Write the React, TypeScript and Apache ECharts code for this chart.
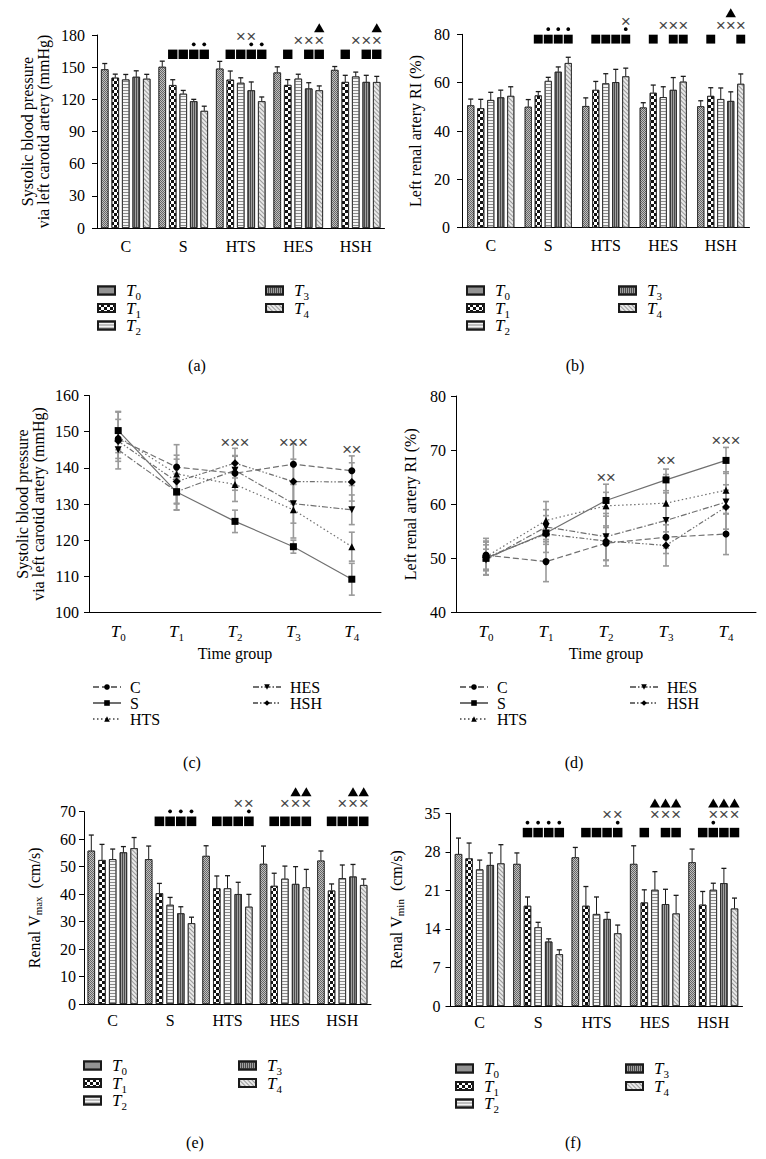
import React, { useEffect, useRef } from 'react';
import * as echarts from 'echarts';

const SERIF = '"Liberation Serif", "Times New Roman", serif';
const FS = 16;

const groups = ['C', 'S', 'HTS', 'HES', 'HSH'];
const times = ['T0', 'T1', 'T2', 'T3', 'T4'];

// Systolic blood pressure (mmHg), each array: T0..T4
const sbpC = [148, 140.2, 138.5, 141, 139.2];
const sbpS = [150.3, 133.3, 125.2, 118.2, 109.2];
const sbpHTS = [148.6, 138.3, 135.4, 128.4, 118.2];
const sbpHES = [145, 133.4, 139.3, 130.1, 128.4];
const sbpHSH = [147.4, 136.2, 141.3, 136.2, 136.1];
const sbpErrC = [5.4, 3.3, 4.7, 5.6, 4.1];
const sbpErrS = [5.3, 5.0, 3.1, 1.8, 4.4];
const sbpErrHTS = [6.8, 8.1, 4.7, 7.8, 4.0];
const sbpErrHES = [5.3, 5.0, 4.1, 5.4, 4.1];
const sbpErrHSH = [3.2, 6.2, 4.1, 6.2, 5.3];

// Left renal artery RI (%)
const riC = [50.6, 49.4, 52.8, 53.9, 54.5];
const riS = [50.0, 54.7, 60.7, 64.5, 68.1];
const riHTS = [50.3, 57.0, 59.7, 60.2, 62.6];
const riHES = [49.7, 55.8, 54.0, 57.0, 60.4];
const riHSH = [50.2, 54.5, 53.2, 52.4, 59.5];
const riErrC = [2.6, 3.7, 3.2, 3.0, 3.8];
const riErrS = [3.0, 1.6, 1.5, 2.0, 2.4];
const riErrHTS = [3.4, 3.5, 4.0, 5.3, 3.4];
const riErrHES = [2.0, 3.2, 4.3, 5.1, 2.2];
const riErrHSH = [2.3, 3.4, 4.6, 3.8, 4.1];

// Renal Vmax (cm/s)
const vmaxC = [55.8, 52.4, 52.7, 55.2, 56.7];
const vmaxS = [52.7, 40.3, 36.1, 33.0, 29.4];
const vmaxHTS = [53.9, 42.1, 42.1, 40.0, 35.4];
const vmaxHES = [51.0, 43.0, 45.6, 43.7, 42.5];
const vmaxHSH = [52.2, 41.3, 45.8, 46.4, 43.3];
const vmaxErrC = [5.7, 5.7, 3.7, 2.1, 3.9];
const vmaxErrS = [4.8, 3.6, 2.7, 2.4, 2.2];
const vmaxErrHTS = [3.7, 4.5, 4.6, 4.3, 4.5];
const vmaxErrHES = [6.5, 4.6, 4.6, 6.3, 6.5];
const vmaxErrHSH = [3.5, 2.4, 4.8, 4.4, 2.2];

// Renal Vmin (cm/s)
const vminC = [27.6, 26.8, 24.8, 25.6, 25.9];
const vminS = [25.8, 18.2, 14.3, 11.7, 9.4];
const vminHTS = [27.0, 18.2, 16.7, 15.8, 13.2];
const vminHES = [25.8, 18.8, 21.1, 18.5, 16.8];
const vminHSH = [26.1, 18.4, 21.1, 22.3, 17.7];
const vminErrC = [2.9, 2.8, 1.7, 2.2, 3.4];
const vminErrS = [2.0, 1.6, 0.9, 0.5, 0.8];
const vminErrHTS = [1.8, 3.5, 3.1, 1.2, 1.5];
const vminErrHES = [3.3, 2.3, 3.3, 2.7, 3.3];
const vminErrHSH = [2.4, 2.4, 1.2, 2.7, 1.9];

// Significance marks: per group, the time indices (bars) carrying each mark
const sqA = [[], [1, 2, 3, 4], [1, 2, 3, 4], [1, 3, 4], [1, 3, 4]];
const dotA = [[], [3, 4], [3, 4], [], []];
const crossA = [[], [], [2, 3], [2, 3, 4], [2, 3, 4]];
const triA = [[], [], [], [4], [4]];

const sqB = [[], [1, 2, 3, 4], [1, 2, 3, 4], [1, 3, 4], [1, 4]];
const dotB = [[], [2, 3, 4], [4], [], []];
const crossB = [[], [], [4], [2, 3, 4], [2, 3, 4]];
const triB = [[], [], [], [], [3]];

const sqE = [[], [1, 2, 3, 4], [1, 2, 3, 4], [1, 2, 3, 4], [1, 2, 3, 4]];
const dotE = [[], [2, 3, 4], [4], [], []];
const crossE = [[], [], [3, 4], [2, 3, 4], [2, 3, 4]];
const triE = [[], [], [], [3, 4], [3, 4]];

const sqF = [[], [1, 2, 3, 4], [1, 2, 3, 4], [1, 3, 4], [1, 2, 3, 4]];
const dotF = [[], [1, 2, 3, 4], [4], [], [2]];
const crossF = [[], [], [3, 4], [2, 3, 4], [2, 3, 4]];
const triF = [[], [], [], [2, 3, 4], [2, 3, 4]];

// Mark rows sit at these values
const markBaseA = 162;
const markBaseB = 78;
const markBaseE = 66.5;
const markBaseF = 31.5;

// Line-chart significance labels per time point
const sbpLineCross = ['', '', '×××', '×××', '××'];
const sbpLineCrossAt = [0, 0, 147, 147, 145];
const riLineCross = ['', '', '××', '××', '×××'];
const riLineCrossAt = [0, 0, 65, 68, 71.7];

const patterns = [
  { color: '#666666', decal: { symbol: 'rect', symbolSize: 1, color: '#c0c0c0', dashArrayX: [[1, 1], [0, 1, 1, 0]], dashArrayY: [1, 0] } },
  { color: '#ffffff', decal: { symbol: 'rect', symbolSize: 1, color: '#111111', dashArrayX: [[3, 3], [0, 3, 3, 0]], dashArrayY: [3, 0] } },
  { color: '#f4f4f4', decal: { symbol: 'rect', symbolSize: 1, color: '#8a8a8a', dashArrayX: [1, 0], dashArrayY: [1, 2] } },
  { color: '#a0a0a0', decal: { symbol: 'rect', symbolSize: 1, color: '#4a4a4a', dashArrayX: [1, 1], dashArrayY: [1, 0] } },
  { color: '#e8e8e8', decal: { symbol: 'rect', symbolSize: 1, color: '#9a9a9a', dashArrayX: [1, 0], dashArrayY: [1, 2], rotation: Math.PI / 4 } },
];

const lineDefs = [
  { symbol: 'circle', rotate: 0, size: 7, type: [6, 3] as any },
  { symbol: 'rect', rotate: 0, size: 7, type: 'solid' as any },
  { symbol: 'triangle', rotate: 0, size: 7, type: [1.5, 2.5] as any },
  { symbol: 'triangle', rotate: 180, size: 7, type: [6, 2, 1.5, 2] as any },
  { symbol: 'diamond', rotate: 0, size: 8, type: [5, 2, 1.5, 2, 1.5, 2] as any },
];

const txt = (extra: any = {}) => ({ color: '#000', fontFamily: SERIF, fontSize: FS, ...extra });

function textStyle(text: string, x: number, y: number, size = FS) {
  return {
    text, x, y, fill: '#000', fontFamily: SERIF, fontSize: size,
    align: 'center', verticalAlign: 'middle',
  };
}

function crossStyle(text: string, x: number, y: number) {
  return { ...textStyle(text, x, y, 17), fill: '#333', stroke: '#333', lineWidth: 0.35 };
}

function barSeries(idx: number, means: number[][], errs: number[][], bw: number, spacing: number,
  marks: number[][][], markBase: number, fixedRows: boolean) {
  const out: any[] = times.map((t, k) => ({
    type: 'bar', name: t, xAxisIndex: idx, yAxisIndex: idx,
    data: means.map((row) => row[k]),
    barWidth: bw, barGap: (((spacing - bw) / bw) * 100).toFixed(1) + '%',
    itemStyle: { color: patterns[k].color, decal: patterns[k].decal, borderColor: '#1a1a1a', borderWidth: 0.7 },
    emphasis: { disabled: true }, silent: true, z: 2,
  }));
  const errData: number[][] = [];
  means.forEach((row, i) => row.forEach((m, k) => errData.push([i, m, k, errs[i][k]])));
  out.push({
    type: 'custom', xAxisIndex: idx, yAxisIndex: idx, silent: true, z: 3,
    encode: { x: 0, y: 1 }, data: errData,
    renderItem: (p: any, api: any) => {
      const i = api.value(0), m = api.value(1), k = api.value(2), e = api.value(3);
      const b = api.coord([i, m]);
      const t = api.coord([i, m + e]);
      const x = b[0] + (k - 2) * spacing;
      return {
        type: 'group', children: [
          { type: 'line', shape: { x1: x, y1: b[1], x2: x, y2: t[1] }, style: { stroke: '#1a1a1a', lineWidth: 1 } },
          { type: 'line', shape: { x1: x - 2.5, y1: t[1], x2: x + 2.5, y2: t[1] }, style: { stroke: '#1a1a1a', lineWidth: 1.3 } },
        ],
      };
    },
  });
  const [sq, dot, cross, tri] = marks;
  out.push({
    type: 'custom', xAxisIndex: idx, yAxisIndex: idx, silent: true, z: 5,
    encode: { x: 0, y: 1 }, data: groups.map((g, i) => [i, markBase]),
    renderItem: (p: any, api: any) => {
      const i = api.value(0);
      const c = api.coord([i, api.value(1)]);
      const cx = c[0], y0 = c[1];
      const hasDot = dot[i].length > 0, hasCross = cross[i].length > 0;
      const yDot = y0 - 10;
      const yCross = fixedRows ? y0 - 18 : y0 - (hasDot ? 18 : 14);
      const yTri = fixedRows ? y0 - 29 : (hasCross ? yCross - 12 : y0 - 14);
      const bx = (j: number) => cx + (j - 2) * spacing;
      const sw = spacing - 1.1;
      const children: any[] = [];
      sq[i].forEach((j) => children.push({ type: 'rect', shape: { x: bx(j) - sw / 2, y: y0 - sw / 2, width: sw, height: sw }, style: { fill: '#000' } }));
      dot[i].forEach((j) => children.push({ type: 'circle', shape: { cx: bx(j), cy: yDot, r: 1.9 }, style: { fill: '#000' } }));
      cross[i].forEach((j) => children.push({ type: 'text', style: crossStyle('×', bx(j), yCross) }));
      tri[i].forEach((j) => children.push({ type: 'polygon', shape: { points: [[bx(j), yTri - 5], [bx(j) + 5.2, yTri + 4], [bx(j) - 5.2, yTri + 4]] }, style: { fill: '#000' } }));
      return { type: 'group', children };
    },
  });
  return out;
}

function lineSeries(idx: number, means: number[][], errs: number[][], cross: string[], crossAt: number[]) {
  const out: any[] = groups.map((g, gi) => ({
    type: 'line', name: g, xAxisIndex: idx, yAxisIndex: idx,
    data: means[gi],
    symbol: lineDefs[gi].symbol, symbolSize: lineDefs[gi].size, symbolRotate: lineDefs[gi].rotate,
    lineStyle: { color: '#707070', width: 1.2, type: lineDefs[gi].type },
    itemStyle: { color: '#000' },
    emphasis: { disabled: true }, silent: true, z: 4,
  }));
  const errData: number[][] = [];
  means.forEach((row, gi) => row.forEach((m, k) => errData.push([k, m, errs[gi][k]])));
  out.push({
    type: 'custom', xAxisIndex: idx, yAxisIndex: idx, silent: true, z: 2,
    encode: { x: 0, y: 1 }, data: errData,
    renderItem: (p: any, api: any) => {
      const k = api.value(0), m = api.value(1), e = api.value(2);
      const lo = api.coord([k, m - e]);
      const hi = api.coord([k, m + e]);
      const x = lo[0];
      const st = { stroke: '#9a9a9a', lineWidth: 1.6 };
      return {
        type: 'group', children: [
          { type: 'line', shape: { x1: x, y1: lo[1], x2: x, y2: hi[1] }, style: st },
          { type: 'line', shape: { x1: x - 3, y1: lo[1], x2: x + 3, y2: lo[1] }, style: st },
          { type: 'line', shape: { x1: x - 3, y1: hi[1], x2: x + 3, y2: hi[1] }, style: st },
        ],
      };
    },
  });
  out.push({
    type: 'custom', xAxisIndex: idx, yAxisIndex: idx, silent: true, z: 6,
    encode: { x: 0, y: 1 }, data: crossAt.map((v, k) => [k, v]),
    renderItem: (p: any, api: any) => {
      const k = api.value(0);
      const c = api.coord([k, api.value(1)]);
      return { type: 'text', style: crossStyle(cross[k], c[0], c[1]) };
    },
  });
  return out;
}

const tRich = {
  t: { fontFamily: SERIF, fontStyle: 'italic', fontSize: 17, lineHeight: 22, color: '#000' },
  s: { fontFamily: SERIF, fontSize: 11, color: '#000', verticalAlign: 'bottom' },
};

function tLegend(left: number, top: number, names: string[]) {
  return {
    left, top, orient: 'vertical', padding: 0, itemGap: -2, itemWidth: 17, itemHeight: 8,
    icon: 'rect', data: names, selectedMode: false,
    formatter: (n: string) => `{p|}{t|T}{s|${n.slice(1)}}`,
    textStyle: { rich: { ...tRich, p: { width: 6 } } },
  };
}

function gLegend(left: number, top: number, names: string[]) {
  return {
    left, top, orient: 'vertical', padding: 0, itemGap: 0, itemWidth: 28, itemHeight: 7,
    data: names, selectedMode: false,
    formatter: (n: string) => `{n|${n}}`,
    textStyle: { rich: { n: { fontFamily: SERIF, fontSize: FS, lineHeight: 20, color: '#000', padding: [0, 0, 0, 4] } } },
  };
}

function catAxis(idx: number, data: string[], margin: number, extra: any = {}) {
  return {
    type: 'category', gridIndex: idx, data,
    axisLine: { lineStyle: { color: '#000', width: 1 } },
    axisTick: { alignWithLabel: true, length: 5, lineStyle: { color: '#000' } },
    axisLabel: txt({ margin, interval: 0 }),
    splitLine: { show: false },
    ...extra,
  };
}

function valAxis(idx: number, min: number, max: number, interval: number, name: string, nameGap: number, margin: number, nameStyle: any = {}) {
  return {
    type: 'value', gridIndex: idx, min, max, interval,
    axisLine: { show: true, lineStyle: { color: '#000', width: 1 } },
    axisTick: { show: true, length: 5, lineStyle: { color: '#000' } },
    axisLabel: txt({ margin }),
    splitLine: { show: false },
    name, nameLocation: 'middle', nameGap, nameRotate: 90, nameMoveOverlap: false,
    nameTextStyle: txt({ lineHeight: 16, ...nameStyle }),
  };
}

function buildOption() {
  const sbpM = [sbpC, sbpS, sbpHTS, sbpHES, sbpHSH];
  const sbpE = [sbpErrC, sbpErrS, sbpErrHTS, sbpErrHES, sbpErrHSH];
  const riM = [riC, riS, riHTS, riHES, riHSH];
  const riE = [riErrC, riErrS, riErrHTS, riErrHES, riErrHSH];
  const vmaxM = [vmaxC, vmaxS, vmaxHTS, vmaxHES, vmaxHSH];
  const vmaxE = [vmaxErrC, vmaxErrS, vmaxErrHTS, vmaxErrHES, vmaxErrHSH];
  const vminM = [vminC, vminS, vminHTS, vminHES, vminHSH];
  const vminE = [vminErrC, vminErrS, vminErrHTS, vminErrHES, vminErrHSH];

  const tAxisLabel = {
    formatter: (v: string) => `{t|T}{s|${v.slice(1)}}`,
    rich: tRich,
  };
  const vRich = (sub: string) => ({
    name: `{a|Renal }{a|V}{s|${sub}}{a|  (cm/s)}`,
    style: {
      rich: {
        a: { fontFamily: SERIF, fontSize: FS, color: '#000', lineHeight: 18 },
        s: { fontFamily: SERIF, fontSize: 11, color: '#000', verticalAlign: 'bottom' },
      },
    },
  });
  const vmaxName = vRich('max');
  const vminName = vRich('min');

  return {
    animation: false,
    backgroundColor: '#fff',
    textStyle: { fontFamily: SERIF },
    grid: [
      { left: 97, top: 35, width: 287.5, height: 193, outerBoundsMode: 'none' },
      { left: 462, top: 34.3, width: 287.5, height: 193.4, outerBoundsMode: 'none' },
      { left: 89, top: 395.5, width: 292, height: 217, outerBoundsMode: 'none' },
      { left: 456, top: 396, width: 300, height: 216.5, outerBoundsMode: 'none' },
      { left: 84, top: 811.7, width: 287, height: 192.3, outerBoundsMode: 'none' },
      { left: 450.5, top: 813.3, width: 292, height: 192.7, outerBoundsMode: 'none' },
    ],
    xAxis: [
      catAxis(0, groups, 10),
      catAxis(1, groups, 10),
      { ...catAxis(2, times, 8), axisLabel: { ...txt({ margin: 8, interval: 0 }), ...tAxisLabel }, name: 'Time group', nameLocation: 'middle', nameGap: 33, nameTextStyle: txt() },
      { ...catAxis(3, times, 8), axisLabel: { ...txt({ margin: 8, interval: 0 }), ...tAxisLabel }, name: 'Time group', nameLocation: 'middle', nameGap: 33, nameTextStyle: txt() },
      catAxis(4, groups, 8),
      catAxis(5, groups, 8),
    ],
    yAxis: [
      valAxis(0, 0, 180, 30, 'Systolic blood pressure\nvia left carotid artery (mmHg)', 46, 12),
      valAxis(1, 0, 80, 20, 'Left renal artery RI (%)', 39, 12),
      valAxis(2, 100, 160, 10, 'Systolic blood pressure\nvia left carotid artery (mmHg)', 43, 10),
      valAxis(3, 40, 80, 10, 'Left renal artery RI (%)', 38, 10),
      valAxis(4, 0, 70, 10, vmaxName.name, 41, 8, vmaxName.style),
      valAxis(5, 0, 35, 7, vminName.name, 45, 10, vminName.style),
    ],
    legend: [
      tLegend(97, 282, ['T0', 'T1', 'T2']),
      tLegend(265, 282, ['T3', 'T4']),
      tLegend(466, 282, ['T0', 'T1', 'T2']),
      tLegend(618, 282, ['T3', 'T4']),
      gLegend(92, 679, ['C', 'S', 'HTS']),
      gLegend(252, 679, ['HES', 'HSH']),
      gLegend(459, 679, ['C', 'S', 'HTS']),
      gLegend(629, 679, ['HES', 'HSH']),
      tLegend(83, 1057, ['T0', 'T1', 'T2']),
      tLegend(238, 1057, ['T3', 'T4']),
      tLegend(455, 1060, ['T0', 'T1', 'T2']),
      tLegend(625, 1060, ['T3', 'T4']),
    ],
    graphic: [
      { type: 'text', style: textStyle('(a)', 197, 365) },
      { type: 'text', style: textStyle('(b)', 575, 365) },
      { type: 'text', style: textStyle('(c)', 192, 762) },
      { type: 'text', style: textStyle('(d)', 574, 762) },
      { type: 'text', style: textStyle('(e)', 195, 1142) },
      { type: 'text', style: textStyle('(f)', 573, 1142) },
    ],
    series: [
      ...barSeries(0, sbpM, sbpE, 7.4, 10.5, [sqA, dotA, crossA, triA], markBaseA, false),
      ...barSeries(1, riM, riE, 7, 10, [sqB, dotB, crossB, triB], markBaseB, false),
      ...lineSeries(2, sbpM, sbpE, sbpLineCross, sbpLineCrossAt),
      ...lineSeries(3, riM, riE, riLineCross, riLineCrossAt),
      ...barSeries(4, vmaxM, vmaxE, 7.3, 10.7, [sqE, dotE, crossE, triE], markBaseE, true),
      ...barSeries(5, vminM, vminE, 7.3, 10.6, [sqF, dotF, crossF, triF], markBaseF, true),
    ],
  };
}

export default function App() {
  const ref = useRef<HTMLDivElement>(null);
  useEffect(() => {
    const chart = echarts.init(ref.current as HTMLDivElement, null, { renderer: 'svg', width: 766, height: 1159 });
    chart.setOption(buildOption() as any);
    return () => chart.dispose();
  }, []);
  return (
    <div
      ref={ref}
      style={{ position: 'absolute', left: 0, top: 0, width: 766, height: 1159, background: '#fff' }}
    />
  );
}
